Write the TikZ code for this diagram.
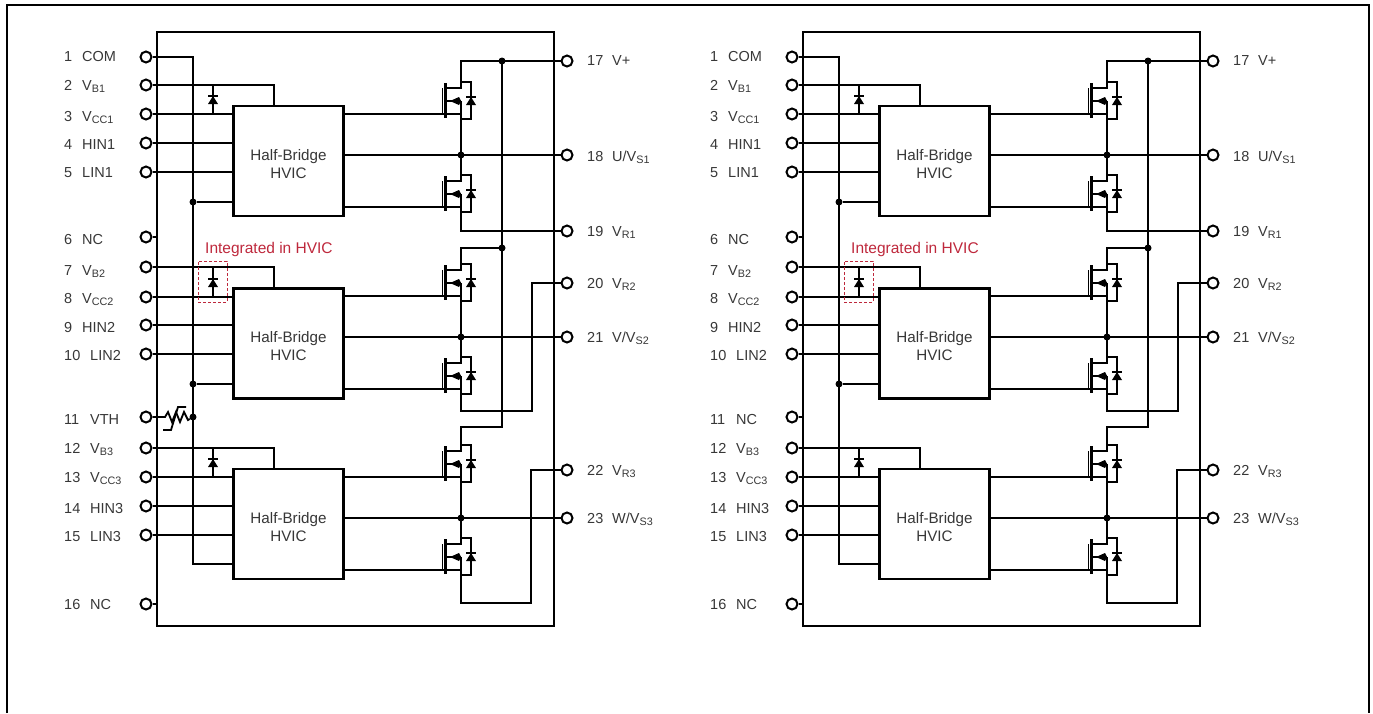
\documentclass[tikz,border=0pt]{standalone}
\usepackage{fontspec}
\setmainfont{Liberation Sans}
\usepackage{xcolor}
\usetikzlibrary{positioning,calc}
\definecolor{labelgray}{RGB}{55,55,55}
\definecolor{markred}{RGB}{190,40,60}
\tikzstyle{wire}=[line width=1.8pt,draw=black]
\tikzstyle{railwire}=[line width=2.2pt,draw=black]
\tikzstyle{chip}=[line width=1.9pt,draw=black]
\tikzstyle{sheet}=[line width=2pt,draw=black]
\tikzstyle{pinnode}=[circle,fill=white,draw=black,line width=2pt,minimum size=11pt,inner sep=0pt]
\tikzstyle{dotnode}=[circle,fill=black,draw=none,minimum size=7pt,inner sep=0pt]
\tikzstyle{pinlabel}=[anchor=base west,inner sep=0pt,text=labelgray,font=\fontsize{14.5}{16}\selectfont]
\tikzstyle{hvic}=[rectangle,fill=white,draw=black,line width=2.1pt,minimum width=110pt,minimum height=110pt,label={[align=center,yshift=-3pt,text=labelgray,font=\fontsize{15.2}{18}\selectfont]center:Half-Bridge\\HVIC}]
\tikzstyle{hvicmark}=[rectangle,draw=markred,dashed,dash pattern=on 3pt off 2pt,line width=1pt,minimum width=29pt,minimum height=41pt,inner sep=0pt]
\tikzstyle{marktext}=[anchor=base west,inner sep=0pt,text=markred,font=\fontsize{15.5}{16}\selectfont]
\newcommand{\vsub}[1]{\raisebox{-2.5pt}{\fontsize{10.8}{11}\selectfont #1}}
% bar above a filled triangle, centred at #1,#2
\newcommand{\diode}[2]{
	\draw[line width=1.7pt] (#1-5,#2-4) -- (#1+5,#2-4);
	\fill (#1,#2-4) -- (#1+5,#2+4) -- (#1-5,#2+4) -- cycle;
}
% name, y of the top of the loop
\newcommand{\mosfet}[2]{
	\begin{scope}[shift={(0,#2)}]
		\coordinate (#1top) at (461,0);
		\coordinate (#1bot) at (461,37);
		\coordinate (#1gate) at (461,32);
		\draw[wire] (#1top) -- (461,6) -- (446,6);
		\draw[wire] (#1top) -- (471,0) -- (471,37) -- (#1bot);
		\draw[wire] (461,19) -- (#1bot);
		\draw[wire] (461,19) -- (446,19);
		\fill (450,19) -- (459,15) -- (461,19) -- (459,23) -- cycle;
		\draw[line width=2.4pt] (445.5,1) -- (445.5,36);
		\draw[wire] (442.5,6) -- (442.5,32);
		\diode{471}{19}
	\end{scope}
}
\begin{document}
\begin{tikzpicture}[x=1pt,y=-1pt]
	\useasboundingbox (0,0) rectangle (1373,713);
	\draw[sheet] (6.5,713) -- (6.5,5) -- (1369,5) -- (1369,713);

	\foreach \s/\dx in {a/0,b/646} {
		\begin{scope}[xshift=\dx pt]
			\draw[chip] (157,32) rectangle (554,626);

			% left pins: number/y/x of name/base of text/name
			\foreach \n/\y/\lx/\b/\txt in {1/57/82/61/COM,2/85/82/90/V\vsub{B1},3/114/82/121/V\vsub{CC1},4/143/82/149/HIN1,5/172/82/177/LIN1,6/237/82/244/NC,7/267/82/275/V\vsub{B2},8/297/82/303/V\vsub{CC2},9/325/82/332/HIN2,10/354/90/360/LIN2,12/448/90/453/V\vsub{B3},13/477/90/482/V\vsub{CC3},14/506/90/513/HIN3,15/535/90/541/LIN3,16/604/90/609/NC} {
				\node[pinnode] (\s\n) at (146,\y) {};
				\node[pinlabel] (\s n\n) at (64,\b) {\n};
				\node[pinlabel] (\s t\n) at (\lx,\b) {\txt};
			}
			% right pins
			\foreach \n/\y/\b/\txt in {17/61/65/V+,18/155/161/{U/V\vsub{S1}},19/231/236/V\vsub{R1},20/283/288/V\vsub{R2},21/337/342/{V/V\vsub{S2}},22/470/475/V\vsub{R3},23/518/523/{W/V\vsub{S3}}} {
				\node[pinnode] (\s\n) at (567,\y) {};
				\node[pinlabel] (\s n\n) at (587,\b) {\n};
				\node[pinlabel] (\s t\n) at (612,\b) {\txt};
			}

			\node[hvic] (\s h1) at (288.5,161) {};
			\node[hvic] (\s h2) at (288.5,343.5) {};
			\node[hvic] (\s h3) at (288.5,524) {};

			\mosfet{\s qa}{82}
			\mosfet{\s qb}{175}
			\mosfet{\s qc}{264}
			\mosfet{\s qd}{357}
			\mosfet{\s qe}{445}
			\mosfet{\s qf}{538}

			% common return
			\coordinate (\s com) at (193,564);
			\draw[wire] (\s1.east) -| (\s com) -- (\s com -| \s h3.west);
			\foreach \j/\y in {1/202,2/384} {
				\node[dotnode] (\s j\j) at (193,\y) {};
				\draw[wire] (\s j\j) -- (\s j\j -| \s h\j.west);
			}

			% supply pins with the diode between them
			\foreach \k/\u/\l/\y in {1/2/3/100,2/7/8/283,3/12/13/463} {
				\coordinate (\s d\k) at (213,\y);
				\coordinate (\s v\k) at (274,\y);
				\draw[wire] (\s\u.east) -| (\s v\k) -- (\s v\k |- \s h\k.north);
				\draw[wire] (\s\u.east -| \s d\k) -- (\s\l.east -| \s d\k);
				\diode{213}{\y}
			}
			\foreach \p/\k in {3/1,4/1,5/1,8/2,9/2,10/2,13/3,14/3,15/3} {
				\draw[wire] (\s\p.east) -- (\s\p.east -| \s h\k.west);
			}
			\coordinate (\s wall) at (157,32);
			\draw[wire] (\s6.east) -- (\s6.east -| \s wall);
			\draw[wire] (\s16.east) -- (\s16.east -| \s wall);

			% gates and half bridge outputs
			\foreach \k/\q/\r in {1/qa/qb,2/qc/qd,3/qe/qf} {
				\draw[wire] (\s\q gate) -- (\s\q gate -| \s h\k.east);
				\draw[wire] (\s\r gate) -- (\s\r gate -| \s h\k.east);
				\draw[wire] (\s\q bot) -- (\s\r top);
			}
			\foreach \k/\q/\o in {1/qa/18,2/qc/21,3/qe/23} {
				\draw[wire] (\s\o.west) -- (\s\o.west -| \s h\k.east);
				\node[dotnode] (\s m\k) at (\s\o -| \s\q top) {};
			}

			% V+ rail
			\coordinate (\s rail) at (502,427);
			\coordinate (\s tapb) at (502,248);
			\draw[wire] (\s17.west) -| (\s qatop);
			\draw[railwire] (\s17 -| \s rail) -- (\s rail) -| (\s qetop);
			\draw[wire] (\s tapb) -| (\s qctop);
			\node[dotnode] (\s ra) at (\s17 -| \s rail) {};
			\node[dotnode] (\s rb) at (\s tapb) {};

			% low side sources
			\coordinate (\s rb2) at (532,411);
			\coordinate (\s rb3) at (531,603);
			\draw[wire] (\s qbbot) |- (\s19.west);
			\draw[wire] (\s qdbot) |- (\s rb2) |- (\s20.west);
			\draw[wire] (\s qfbot) |- (\s rb3) |- (\s22.west);

			\node[hvicmark] (\s box) at (212.5,281.5) {};
			\node[marktext] (\s note) at (205,253) {Integrated in HVIC};
		\end{scope}
	}

	% pin 11 differs between the two parts
	\node[pinnode] (a11) at (146,417) {};
	\node[pinlabel] (an11) at (64,424) {11};
	\node[pinlabel] (at11) at (90,424) {VTH};
	\node[dotnode] (ath) at (193,417) {};
	\draw[wire] (a11.east) -- (165,417) -- (168,412) -- (172,422) -- (176,412) -- (180,422) -- (184,412) -- (188,420) -- (ath);
	\draw[wire] (163,430) -- (171,430) -- (178,407) -- (186,407);

	\node[pinnode] (b11) at (792,417) {};
	\node[pinlabel] (bn11) at (710,424) {11};
	\node[pinlabel] (bt11) at (736,424) {NC};
	\coordinate (bw11) at (803,417);
	\draw[wire] (b11.east) -- (bw11);
\end{tikzpicture}
\end{document}
